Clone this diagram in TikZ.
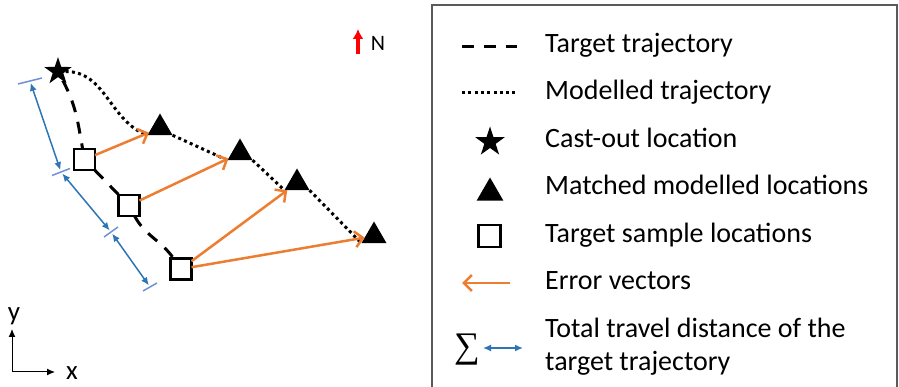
\documentclass[tikz,border=0pt]{standalone}
\usepackage{fontspec}
\setmainfont{Carlito}
\newfontfamily\sumfont{Liberation Serif}
\usetikzlibrary{arrows.meta,shapes.geometric}

\definecolor{errorange}{HTML}{ED7D31}
\definecolor{travelblue}{HTML}{2E75B6}
\definecolor{ticklilac}{HTML}{6F90D8}
\definecolor{boxgray}{HTML}{5A5A5A}

\tikzset{
  caststar/.style={star,star points=5,star point ratio=2.6,fill=black,minimum size=29pt,inner sep=0pt,outer sep=0pt},
  matchtri/.style={regular polygon,regular polygon sides=3,fill=black,minimum size=29pt,inner sep=0pt,outer sep=0pt},
  samplebox/.style={rectangle,draw=black,line width=2.5pt,fill=white,minimum size=21pt,inner sep=0pt,outer sep=0pt},
  targetpath/.style={line width=3pt,dash pattern=on 12pt off 10pt},
  modelpath/.style={line width=3pt,dash pattern=on 3pt off 3.3pt},
  errvec/.style={errorange,line width=2.5pt,-{Straight Barb[length=8pt,width=16pt]}},
  travel/.style={travelblue,line width=1.5pt,{Latex[length=8pt,width=7pt]}-{Latex[length=8pt,width=7pt]}},
  tickmark/.style={ticklilac,line width=1.5pt},
  axisarrow/.style={line width=1pt,-{Latex[length=8pt,width=7pt]}},
  axislabel/.style={anchor=base,inner sep=0pt,font=\fontsize{27}{33}\selectfont},
  legendtext/.style={anchor=base west,inner sep=0pt,font=\fontsize{28}{33}\selectfont},
}

\begin{document}
\begin{tikzpicture}[x=1pt,y=1pt]
  \useasboundingbox (0,0) rectangle (899,387);

  % trajectories
  \node[caststar] (cast) at (58,315.5) {};
  \node[matchtri] (m1) at (160,259) {};
  \node[matchtri] (m2) at (240,234) {};
  \node[matchtri] (m3) at (297,204) {};
  \node[matchtri] (m4) at (374,151) {};
  \node[samplebox] (s1) at (84.5,227.5) {};
  \node[samplebox] (s2) at (129,181.5) {};
  \node[samplebox] (s3) at (181,118) {};

  \draw[targetpath] (cast) to[out=-62,in=100] (s1);
  \draw[targetpath] (s1) -- (s2);
  \draw[targetpath] (s2) to[out=-62,in=125] (s3);

  \draw[modelpath] (cast) to[out=0,in=160] (m1.corner 2);
  \draw[modelpath] (m1.corner 3) -- (m2.corner 2);
  \draw[modelpath] (m2.corner 3) -- (m3.corner 2);
  \draw[modelpath] (m3.corner 3) -- (m4.corner 2);

  \draw[errvec] (s1) -- (m1);
  \draw[errvec] (s2) -- (m2);
  \draw[errvec] (s3) -- (m3);
  \draw[errvec] (s3) -- (m4);

  % travel distance
  \coordinate (d0) at (30,306);
  \coordinate (d1) at (61,215);
  \coordinate (d2) at (111,155);
  \coordinate (d3) at (150,100);
  \draw[tickmark] (d0) +(-12,-3) -- +(12,3);
  \draw[tickmark] (d1) +(-9,-3.5) -- +(9,3.5);
  \draw[tickmark] (d2) +(-7,-5) -- +(7,5);
  \draw[tickmark] (d3) +(-7,-4) -- +(7,4);
  \draw[travel,shorten <=2pt,shorten >=2pt] (d0) -- (d1);
  \draw[travel,shorten <=2pt,shorten >=2pt] (d1) -- (d2);
  \draw[travel,shorten <=2pt,shorten >=2pt] (d2) -- (d3);

  % axes and north
  \coordinate (origin) at (12,15);
  \coordinate (ytip) at (12,58);
  \coordinate (xtip) at (55,15);
  \draw[axisarrow] (origin) -- (ytip);
  \draw[axisarrow] (origin) -- (xtip);
  \node[axislabel] (ylab) at (14,66) {y};
  \node[axislabel] (xlab) at (72,7) {x};

  \coordinate (ntail) at (358,333);
  \coordinate (nhead) at (358,358);
  \draw[red,line width=3.2pt,-{Latex[length=10pt,width=11pt]}] (ntail) -- (nhead);
  \node[anchor=base,inner sep=0pt,font=\fontsize{22}{26}\selectfont] (north) at (378,336) {N};

  % legend
  \draw[boxgray,line width=1.6pt] (432,-2) |- (897,382) -- (897,-2);
  \draw[targetpath] (462,340) -- (517,340);
  \draw[modelpath] (462,294) -- (517,294);
  \node[caststar,minimum size=31pt] (kcast) at (490,245) {};
  \node[matchtri,minimum size=31pt] (kmatch) at (490,194) {};
  \node[samplebox,minimum size=22pt] (ksample) at (489.5,151) {};
  \draw[errvec] (510,104) -- (462,104);
  \node[inner sep=0pt,font=\fontsize{36}{36}\sumfont] (ksum) at (467,37) {∑};
  \draw[travel] (483,39) -- (523,39);

  \node[legendtext] (ltarget) at (545,334) {Target trajectory};
  \node[legendtext] (lmodel) at (545,287) {Modelled trajectory};
  \node[legendtext] (lcast) at (545,239) {Cast-out location};
  \node[legendtext] (lmatch) at (545,192) {Matched modelled locations};
  \node[legendtext] (lsample) at (545,144) {Target sample locations};
  \node[legendtext] (lerror) at (545,97) {Error vectors};
  \node[legendtext,align=left] (ltravel) at (545,16) {Total travel distance of the\\target trajectory};
\end{tikzpicture}
\end{document}
